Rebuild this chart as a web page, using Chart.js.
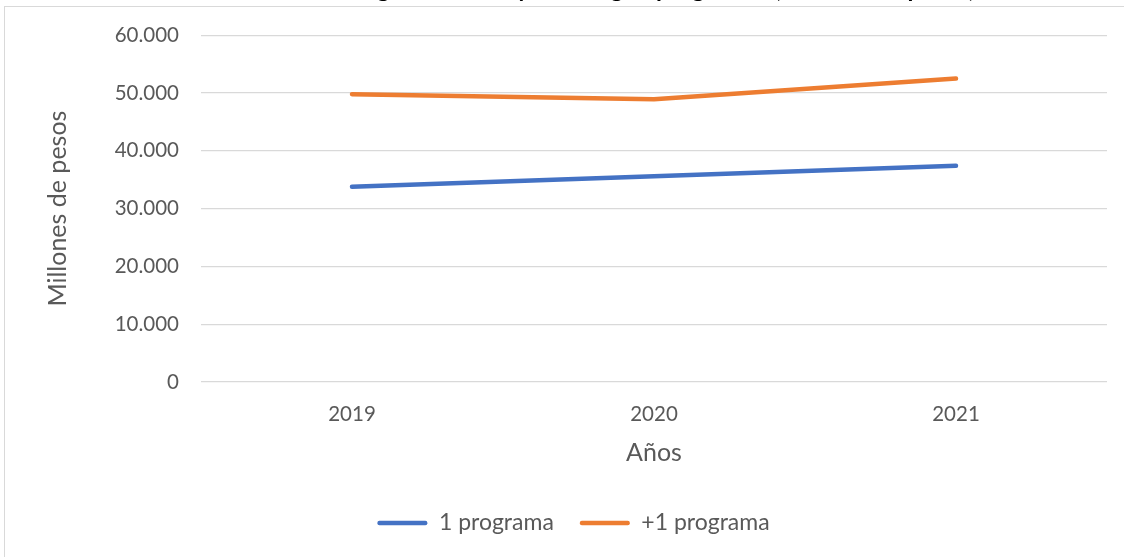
<!DOCTYPE html>
<html><head><meta charset="utf-8">
<script src="https://cdn.jsdelivr.net/npm/chart.js@4.4.1/dist/chart.umd.min.js"></script>
<style>
html,body{margin:0;padding:0;background:#fff;overflow:hidden;width:1124px;height:557px;position:relative;}
#frame{position:absolute;left:4px;top:6px;width:1200px;height:700px;border:1.5px solid #d9d9d9;box-sizing:border-box;}
#wrap{position:absolute;left:0;top:-40px;width:1124px;height:640px;}
</style></head><body>
<div id="frame"></div>
<div id="wrap"><canvas id="c"></canvas></div>
<script>
const categories = ['2019', '2020', '2021'];
const unPrograma = [33800, 35600, 37400];
const masDeUnPrograma = [49800, 48900, 52500];
const seriesNames = ['1 programa', '+1 programa'];
const yTickValues = [0, 10000, 20000, 30000, 40000, 50000, 60000];
const chartTitle = 'Valor total de los ingresos netos y área según programas (millones de pesos)';
const yAxisTitle = 'Millones de pesos';
const xAxisTitle = 'Años';

const BLUE = '#4472C4', ORANGE = '#ED7D31', GRID = '#D9D9D9', TXT = '#595959';
const fmt = v => String(v).replace(/\B(?=(\d{3})+(?!\d))/g, '.');

new Chart(document.getElementById('c'), {
  type: 'line',
  data: {
    labels: categories,
    datasets: [
      {label: seriesNames[0], data: unPrograma, borderColor: BLUE, backgroundColor: BLUE,
       borderWidth: 4.5, pointRadius: 0, tension: 0, borderCapStyle: 'round', borderJoinStyle: 'round', yAxisID: 'y'},
      {label: seriesNames[1], data: masDeUnPrograma, borderColor: ORANGE, backgroundColor: ORANGE,
       borderWidth: 4.5, pointRadius: 0, tension: 0, borderCapStyle: 'round', borderJoinStyle: 'round', yAxisID: 'y'}
    ]
  },
  options: {
    responsive: true,
    maintainAspectRatio: false,
    animation: false,
    layout: {padding: {left: 23, right: 0, top: 0, bottom: 55.5}},
    plugins: {
      tooltip: {enabled: false},
      title: {
        display: true, text: chartTitle, color: '#000',
        font: {family: 'Lato', size: 24, weight: 'bold'},
        padding: {top: 14.5, bottom: 31.9}
      },
      legend: {
        position: 'bottom',
        labels: {
          color: TXT, font: {family: 'Lato', size: 23},
          boxWidth: 50, boxHeight: 4.5, padding: 26,
          useBorderRadius: true, borderRadius: 2,
          generateLabels(chart) {
            const items = Chart.defaults.plugins.legend.labels.generateLabels(chart);
            items.forEach(it => { it.lineWidth = 0; it.strokeStyle = it.fillStyle; });
            return items;
          }
        }
      }
    },
    scales: {
      x: {
        offset: true,
        afterFit(s) { s.height = 103.5; },
        grid: {display: false, drawTicks: false, offset: true},
        border: {display: false},
        ticks: {color: TXT, font: {family: 'Lato', size: 20.5}, padding: 20},
        title: {display: true, text: xAxisTitle, color: TXT, font: {family: 'Lato', size: 25}, padding: {top: 11.4, bottom: 17.5}}
      },
      y: {
        min: 0, max: 60000,
        afterBuildTicks(s) { s.ticks = yTickValues.map(v => ({value: v})); },
        afterFit(s) { s.width = 178; },
        grid: {color: GRID, lineWidth: 1.3, drawTicks: false},
        border: {display: false},
        ticks: {color: TXT, font: {family: 'Lato', size: 20.5}, padding: 22, callback: v => fmt(v)},
        title: {display: true, text: yAxisTitle, color: TXT, font: {family: 'Lato', size: 25}, padding: {top: 19.5, bottom: 0}}
      },
      y2: {
        position: 'right', min: 0, max: 1,
        grid: {display: false, drawTicks: false}, border: {display: false},
        ticks: {display: false},
        afterFit(s) { s.width = 17; }
      }
    }
  }
});
</script>
</body></html>
